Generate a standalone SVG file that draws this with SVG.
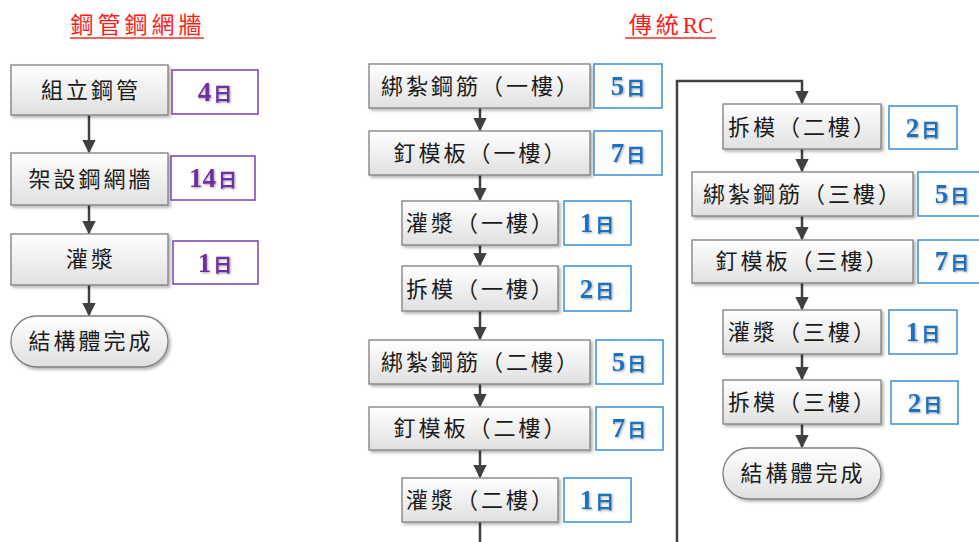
<svg xmlns="http://www.w3.org/2000/svg" width="979" height="542" viewBox="0 0 979 542">
<style>
.box{fill:url(#g);stroke:#7f7f7f;stroke-width:1.3;filter:url(#sh)}
.t{font-family:"Noto Sans CJK TC","Noto Sans CJK SC",sans-serif;font-size:22px;fill:#1a1a1a;text-anchor:middle;letter-spacing:3px}
.db{fill:#fff;stroke:#3b8fd8;stroke-width:1.5}
.dp{fill:#fff;stroke:#7f3fb5;stroke-width:1.5}
.d{font-family:"Liberation Serif",serif;font-weight:bold;font-size:27px;text-anchor:middle;filter:url(#ts)}
.d tspan.k{font-family:"Noto Sans CJK TC",sans-serif;font-size:19px}
.blue{fill:#1f6fc0}
.purp{fill:#6f2fa0}
.title{font-family:"Noto Sans CJK TC","Liberation Serif",serif;font-size:23px;fill:#ff1a1a;text-anchor:middle;letter-spacing:4px}
.title tspan.r{font-family:"Liberation Serif",serif;letter-spacing:0}
.ul{stroke:#ff6060;stroke-width:2}
.c{fill:none;stroke:#404040;stroke-width:2.5}
</style>
<defs>
<linearGradient id="g" x1="0" y1="0" x2="0" y2="1"><stop offset="0" stop-color="#ffffff"/><stop offset="1" stop-color="#e0e0e0"/></linearGradient>
<filter id="sh" x="-10%" y="-10%" width="130%" height="140%"><feDropShadow dx="2" dy="2" stdDeviation="1.5" flood-color="#000" flood-opacity="0.3"/></filter>
<filter id="ts" x="-20%" y="-20%" width="150%" height="150%"><feDropShadow dx="1" dy="1" stdDeviation="0.8" flood-color="#000" flood-opacity="0.35"/></filter>
<marker id="ah" viewBox="0 0 10 10" refX="9" refY="5" markerWidth="5.5" markerHeight="5.5" markerUnits="strokeWidth" orient="auto"><path d="M0,0 L10,5 L0,10 z" fill="#404040"/></marker>
</defs>

<g id="titles">
<text class="title" x="138" y="33">鋼管鋼網牆</text>
<line class="ul" x1="70" y1="38" x2="204" y2="38"/>
<text class="title" x="671" y="33">傳統<tspan class="r">RC</tspan></text>
<line class="ul" x1="625" y1="38" x2="716" y2="38"/>
</g>

<g id="connectors">
<line class="c" x1="89" y1="115" x2="89" y2="152" marker-end="url(#ah)"/>
<line class="c" x1="89" y1="205" x2="89" y2="233" marker-end="url(#ah)"/>
<line class="c" x1="89" y1="285" x2="89" y2="315" marker-end="url(#ah)"/>
<line class="c" x1="480" y1="108" x2="480" y2="130" marker-end="url(#ah)"/>
<line class="c" x1="480" y1="175" x2="480" y2="200" marker-end="url(#ah)"/>
<line class="c" x1="480" y1="245" x2="480" y2="265" marker-end="url(#ah)"/>
<line class="c" x1="480" y1="311" x2="480" y2="339" marker-end="url(#ah)"/>
<line class="c" x1="480" y1="384" x2="480" y2="406" marker-end="url(#ah)"/>
<line class="c" x1="480" y1="450" x2="480" y2="477" marker-end="url(#ah)"/>
<line class="c" x1="480" y1="522" x2="480" y2="542"/>
<path class="c" d="M677,542 V81 H802 V103" marker-end="url(#ah)"/>
<line class="c" x1="802" y1="149" x2="802" y2="171" marker-end="url(#ah)"/>
<line class="c" x1="802" y1="216" x2="802" y2="239" marker-end="url(#ah)"/>
<line class="c" x1="802" y1="283" x2="802" y2="309" marker-end="url(#ah)"/>
<line class="c" x1="802" y1="354" x2="802" y2="379" marker-end="url(#ah)"/>
<line class="c" x1="802" y1="424" x2="802" y2="447" marker-end="url(#ah)"/>
</g>

<g id="l1"><rect class="box" x="11" y="65" width="157" height="50"/><text class="t" x="91" y="98">組立鋼管</text></g>
<g id="l1d"><rect class="dp" x="172" y="70" width="86" height="44"/><text class="d purp" x="215" y="101">4<tspan class="k" dx="2">日</tspan></text></g>
<g id="l2"><rect class="box" x="11" y="153" width="157" height="52"/><text class="t" x="91" y="187">架設鋼網牆</text></g>
<g id="l2d"><rect class="dp" x="171" y="156" width="84" height="44"/><text class="d purp" x="213" y="187">14<tspan class="k" dx="2">日</tspan></text></g>
<g id="l3"><rect class="box" x="11" y="234" width="157" height="51"/><text class="t" x="91" y="267">灌漿</text></g>
<g id="l3d"><rect class="dp" x="173" y="241" width="85" height="43"/><text class="d purp" x="215" y="272">1<tspan class="k" dx="2">日</tspan></text></g>
<g id="l4"><rect class="box" x="11" y="316" width="157" height="51" rx="25.5"/><text class="t" x="91" y="349">結構體完成</text></g>

<g id="m1"><rect class="box" x="369" y="64" width="221" height="44"/><text class="t" x="481" y="94">綁紮鋼筋（一樓）</text></g>
<g id="m1d"><rect class="db" x="594" y="64" width="68" height="44"/><text class="d blue" x="628" y="95">5<tspan class="k" dx="2">日</tspan></text></g>
<g id="m2"><rect class="box" x="369" y="131" width="221" height="44"/><text class="t" x="481" y="161">釘模板（一樓）</text></g>
<g id="m2d"><rect class="db" x="594" y="131" width="68" height="44"/><text class="d blue" x="628" y="162">7<tspan class="k" dx="2">日</tspan></text></g>
<g id="m3"><rect class="box" x="402" y="201" width="156" height="44"/><text class="t" x="481" y="231">灌漿（一樓）</text></g>
<g id="m3d"><rect class="db" x="564" y="201" width="67" height="44"/><text class="d blue" x="597" y="232">1<tspan class="k" dx="2">日</tspan></text></g>
<g id="m4"><rect class="box" x="402" y="266" width="156" height="45"/><text class="t" x="481" y="297">拆模（一樓）</text></g>
<g id="m4d"><rect class="db" x="564" y="266" width="67" height="45"/><text class="d blue" x="597" y="298">2<tspan class="k" dx="2">日</tspan></text></g>
<g id="m5"><rect class="box" x="369" y="340" width="221" height="44"/><text class="t" x="481" y="370">綁紮鋼筋（二樓）</text></g>
<g id="m5d"><rect class="db" x="596" y="340" width="67" height="44"/><text class="d blue" x="629" y="371">5<tspan class="k" dx="2">日</tspan></text></g>
<g id="m6"><rect class="box" x="369" y="407" width="221" height="43"/><text class="t" x="481" y="436">釘模板（二樓）</text></g>
<g id="m6d"><rect class="db" x="596" y="407" width="67" height="43"/><text class="d blue" x="629" y="437">7<tspan class="k" dx="2">日</tspan></text></g>
<g id="m7"><rect class="box" x="402" y="478" width="156" height="44"/><text class="t" x="481" y="508">灌漿（二樓）</text></g>
<g id="m7d"><rect class="db" x="564" y="478" width="67" height="44"/><text class="d blue" x="597" y="509">1<tspan class="k" dx="2">日</tspan></text></g>

<g id="r1"><rect class="box" x="723" y="104" width="158" height="45"/><text class="t" x="803" y="135">拆模（二樓）</text></g>
<g id="r1d"><rect class="db" x="889" y="106" width="68" height="43"/><text class="d blue" x="923" y="137">2<tspan class="k" dx="2">日</tspan></text></g>
<g id="r2"><rect class="box" x="692" y="172" width="221" height="44"/><text class="t" x="803" y="202">綁紮鋼筋（三樓）</text></g>
<g id="r2d"><rect class="db" x="918" y="172" width="66" height="44"/><text class="d blue" x="952" y="203">5<tspan class="k" dx="2">日</tspan></text></g>
<g id="r3"><rect class="box" x="692" y="240" width="221" height="43"/><text class="t" x="803" y="269">釘模板（三樓）</text></g>
<g id="r3d"><rect class="db" x="918" y="240" width="66" height="43"/><text class="d blue" x="952" y="270">7<tspan class="k" dx="2">日</tspan></text></g>
<g id="r4"><rect class="box" x="723" y="310" width="158" height="44"/><text class="t" x="803" y="340">灌漿（三樓）</text></g>
<g id="r4d"><rect class="db" x="889" y="310" width="68" height="44"/><text class="d blue" x="923" y="341">1<tspan class="k" dx="2">日</tspan></text></g>
<g id="r5"><rect class="box" x="723" y="380" width="158" height="44"/><text class="t" x="803" y="410">拆模（三樓）</text></g>
<g id="r5d"><rect class="db" x="891" y="381" width="67" height="43"/><text class="d blue" x="925" y="412">2<tspan class="k" dx="2">日</tspan></text></g>
<g id="r6"><rect class="box" x="723" y="448" width="158" height="51" rx="25.5"/><text class="t" x="803" y="481">結構體完成</text></g>
</svg>
